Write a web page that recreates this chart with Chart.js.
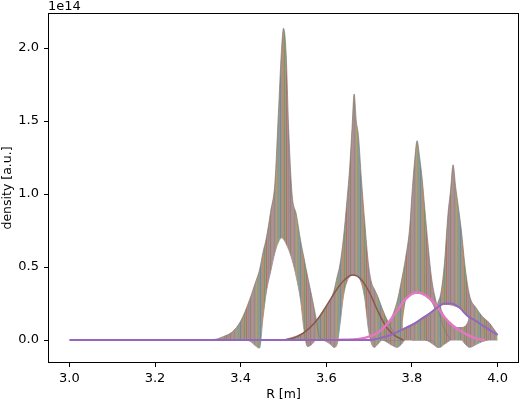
<!DOCTYPE html>
<html>
<head>
<meta charset="utf-8">
<script src="https://cdn.jsdelivr.net/npm/chart.js@4/dist/chart.umd.min.js"></script>
<style>
  html, body { margin: 0; padding: 0; background: #fff; }
  #c { display: block; }
</style>
</head>
<body>
<canvas id="c" width="520" height="404"></canvas>
<script>
// density values are in units of 1e14
const xTicks = [3.0, 3.2, 3.4, 3.6, 3.8, 4.0];
const yTicks = [0.0, 0.5, 1.0, 1.5, 2.0];

// peak near R = 3.50 : outer envelope and inner edge of the bundle
const r1 = [3.30, 3.34, 3.36, 3.38, 3.40, 3.42, 3.435, 3.444, 3.452, 3.46, 3.47, 3.48, 3.488, 3.495, 3.50, 3.506, 3.512, 3.52, 3.53, 3.54, 3.548, 3.556, 3.566, 3.576, 3.584, 3.60];
const top1 = [0, 0.005, 0.025, 0.055, 0.13, 0.27, 0.40, 0.48, 0.60, 0.70, 0.88, 1.08, 1.55, 1.97, 2.135, 1.97, 1.45, 1.00, 0.86, 0.68, 0.56, 0.44, 0.30, 0.15, 0.02, 0];
const low1 = [0, 0, 0, 0, 0, -0.005, -0.04, -0.055, 0.15, 0.33, 0.47, 0.60, 0.67, 0.70, 0.69, 0.66, 0.62, 0.55, 0.43, 0.27, 0.07, -0.045, -0.03, 0, 0, 0];

// peak near R = 3.665
const r2 = [3.50, 3.54, 3.57, 3.59, 3.61, 3.618, 3.625, 3.632, 3.64, 3.648, 3.655, 3.66, 3.665, 3.67, 3.675, 3.682, 3.69, 3.698, 3.705, 3.712, 3.72, 3.73, 3.745, 3.76, 3.78];
const top2 = [0, 0.04, 0.10, 0.19, 0.28, 0.34, 0.43, 0.52, 0.70, 0.95, 1.20, 1.45, 1.685, 1.50, 1.40, 1.10, 0.80, 0.53, 0.40, 0.35, 0.30, 0.22, 0.12, 0.04, 0];
const low2 = [0, 0, 0, 0, -0.03, -0.05, -0.03, 0.11, 0.30, 0.40, 0.435, 0.445, 0.445, 0.44, 0.43, 0.39, 0.28, 0.08, -0.02, -0.05, -0.03, 0, 0, 0, 0];

// peak near R = 3.81
const r3 = [3.70, 3.73, 3.75, 3.765, 3.775, 3.785, 3.795, 3.80, 3.806, 3.812, 3.818, 3.824, 3.83, 3.838, 3.846, 3.855, 3.865, 3.875, 3.89];
const top3 = [0, 0.06, 0.14, 0.26, 0.40, 0.56, 0.78, 1.00, 1.22, 1.365, 1.25, 1.10, 0.90, 0.64, 0.42, 0.28, 0.17, 0.08, 0];
const low3 = [0, 0, -0.03, -0.05, -0.03, 0, 0, 0, 0, 0, 0, 0, 0, 0, 0, -0.03, -0.05, -0.03, 0];

// peak near R = 3.90
const r4 = [3.80, 3.83, 3.85, 3.86, 3.868, 3.876, 3.884, 3.89, 3.896, 3.902, 3.908, 3.915, 3.925, 3.935, 3.95, 3.965, 3.98, 3.995, 4.0];
const top4 = [0, 0.05, 0.16, 0.25, 0.33, 0.53, 0.86, 1.02, 1.20, 1.05, 0.92, 0.76, 0.48, 0.30, 0.22, 0.16, 0.12, 0.06, 0.04];
const low4 = [0, 0, -0.03, -0.05, -0.04, -0.01, 0, 0, 0, 0, 0, 0, -0.03, -0.05, -0.03, -0.01, 0, 0, 0];

// empty pockets below the last two peaks
const rGap3 = [3.778, 3.785, 3.795, 3.805, 3.815, 3.825, 3.835, 3.845, 3.852];
const gap3Top = [0.12, 0.26, 0.30, 0.315, 0.318, 0.31, 0.29, 0.26, 0.22];
const gap3Low = [0.08, 0.09, 0.105, 0.12, 0.14, 0.16, 0.175, 0.195, 0.21];
const rGap4 = [3.868, 3.875, 3.885, 3.895, 3.905, 3.915, 3.925, 3.932];
const gap4Top = [0.235, 0.24, 0.24, 0.235, 0.225, 0.21, 0.18, 0.16];
const gap4Low = [0.22, 0.17, 0.13, 0.10, 0.09, 0.09, 0.10, 0.14];

// the broad profiles drawn on top
const rBrown = [3.50, 3.53, 3.56, 3.584, 3.61, 3.63, 3.645, 3.661, 3.68, 3.70, 3.72, 3.74, 3.76, 3.78];
const brownLine = [0, 0.02, 0.08, 0.16, 0.28, 0.37, 0.42, 0.445, 0.42, 0.33, 0.20, 0.09, 0.03, 0];
const rPink = [3.62, 3.68, 3.72, 3.745, 3.765, 3.785, 3.81, 3.835, 3.855, 3.875, 3.895, 3.915, 3.93, 3.95, 3.97];
const pinkLine = [0, 0.01, 0.05, 0.12, 0.20, 0.28, 0.325, 0.30, 0.245, 0.16, 0.10, 0.06, 0.035, 0.01, 0];
const rPurple = [3.0, 3.70, 3.72, 3.75, 3.78, 3.81, 3.84, 3.86, 3.875, 3.89, 3.91, 3.93, 3.95, 3.97, 4.0];
const purpleLine = [0, 0, 0.01, 0.035, 0.075, 0.12, 0.18, 0.225, 0.25, 0.25, 0.225, 0.165, 0.13, 0.09, 0.035];

const tab10 = ['#1f77b4', '#ff7f0e', '#2ca02c', '#d62728', '#9467bd', '#8c564b', '#e377c2', '#7f7f7f', '#bcbd22', '#17becf'];

function pts(xs, ys) {
  return xs.map(function(x, i) { return {x: x, y: ys[i]}; });
}

// many thin coloured curves packed together -> muted striped fill
function stripes() {
  const p = document.createElement('canvas');
  p.width = 20; p.height = 4;
  const g = p.getContext('2d');
  g.fillStyle = '#a3948a';
  g.fillRect(0, 0, 20, 4);
  g.globalAlpha = 0.35;
  tab10.forEach(function(c, i) {
    g.fillStyle = c;
    g.fillRect(i * 2, 0, 1, 4);
  });
  return g.createPattern(p, 'repeat');
}
const bundle = stripes();
const edge = 'rgba(130,118,108,0.7)';

function band(xs, hi, lo) {
  return [
    {data: pts(xs, hi), borderColor: edge, borderWidth: 1, backgroundColor: bundle, fill: '+1', order: 10},
    {data: pts(xs, lo), borderColor: edge, borderWidth: 1, fill: false, order: 10}
  ];
}
function gap(xs, hi, lo) {
  return [
    {data: pts(xs, hi), borderWidth: 0, borderColor: 'rgba(0,0,0,0)', backgroundColor: '#fff', fill: '+1', order: 5},
    {data: pts(xs, lo), borderWidth: 0, borderColor: 'rgba(0,0,0,0)', fill: false, order: 5}
  ];
}

const datasets = [].concat(
  band(r1, top1, low1),
  band(r2, top2, low2),
  band(r3, top3, low3),
  band(r4, top4, low4),
  gap(rGap3, gap3Top, gap3Low),
  gap(rGap4, gap4Top, gap4Low),
  [
    {data: pts(rBrown, brownLine), borderColor: '#8c564b', borderWidth: 1.5, fill: false, order: 2},
    {data: pts(rPink, pinkLine), borderColor: '#e377c2', borderWidth: 2.5, fill: false, order: 1},
    {data: pts(rPurple, purpleLine), borderColor: '#9467bd', borderWidth: 2, fill: false, order: 0}
  ]
);

const font = {family: 'DejaVu Sans', size: 13};

const frame = {
  id: 'frame',
  afterDraw(chart) {
    const ctx = chart.ctx, a = chart.chartArea;
    ctx.save();
    ctx.strokeStyle = '#000';
    ctx.lineWidth = 1;
    ctx.strokeRect(Math.round(a.left) + 0.5, Math.round(a.top) + 0.5,
      Math.round(a.right - a.left) - 1, Math.round(a.bottom - a.top) - 1);
    ctx.fillStyle = '#000';
    ctx.font = '13px "DejaVu Sans"';
    ctx.textAlign = 'left';
    ctx.textBaseline = 'alphabetic';
    ctx.fillText('1e14', a.left, a.top - 3);
    ctx.font = '12.5px "DejaVu Sans"';
    ctx.textAlign = 'center';
    ctx.textBaseline = 'middle';
    ctx.fillText('R [m]', (a.left + a.right) / 2, 395);
    ctx.translate(7.5, (a.top + a.bottom) / 2);
    ctx.rotate(-Math.PI / 2);
    ctx.fillText('density [a.u.]', 0, 0);
    ctx.restore();
  }
};

new Chart(document.getElementById('c'), {
  type: 'line',
  data: {datasets: datasets},
  options: {
    responsive: false,
    animation: false,
    devicePixelRatio: 1,
    layout: {padding: {left: 0, top: 13, right: 1, bottom: 0}},
    elements: {point: {radius: 0}, line: {cubicInterpolationMode: 'monotone'}},
    plugins: {legend: {display: false}, tooltip: {enabled: false}},
    scales: {
      x: {
        type: 'linear', min: 2.95, max: 4.05,
        afterBuildTicks: function(s) { s.ticks = xTicks.map(function(v) { return {value: v}; }); },
        afterFit: function(s) { s.height = 41; },
        grid: {display: true, drawOnChartArea: false, drawTicks: true, tickLength: 4, color: '#000'},
        border: {display: false},
        ticks: {color: '#000', font: font, padding: 4, maxRotation: 0, autoSkip: false,
          callback: function(v) { return v.toFixed(1); }}
      },
      y: {
        type: 'linear', min: -0.157, max: 2.24,
        afterBuildTicks: function(s) { s.ticks = yTicks.map(function(v) { return {value: v}; }); },
        afterFit: function(s) { s.width = 48; },
        grid: {display: true, drawOnChartArea: false, drawTicks: true, tickLength: 4, color: '#000'},
        border: {display: false},
        ticks: {color: '#000', font: font, padding: 5,
          callback: function(v) { return v.toFixed(1); }}
      }
    }
  },
  plugins: [frame]
});
</script>
</body>
</html>
